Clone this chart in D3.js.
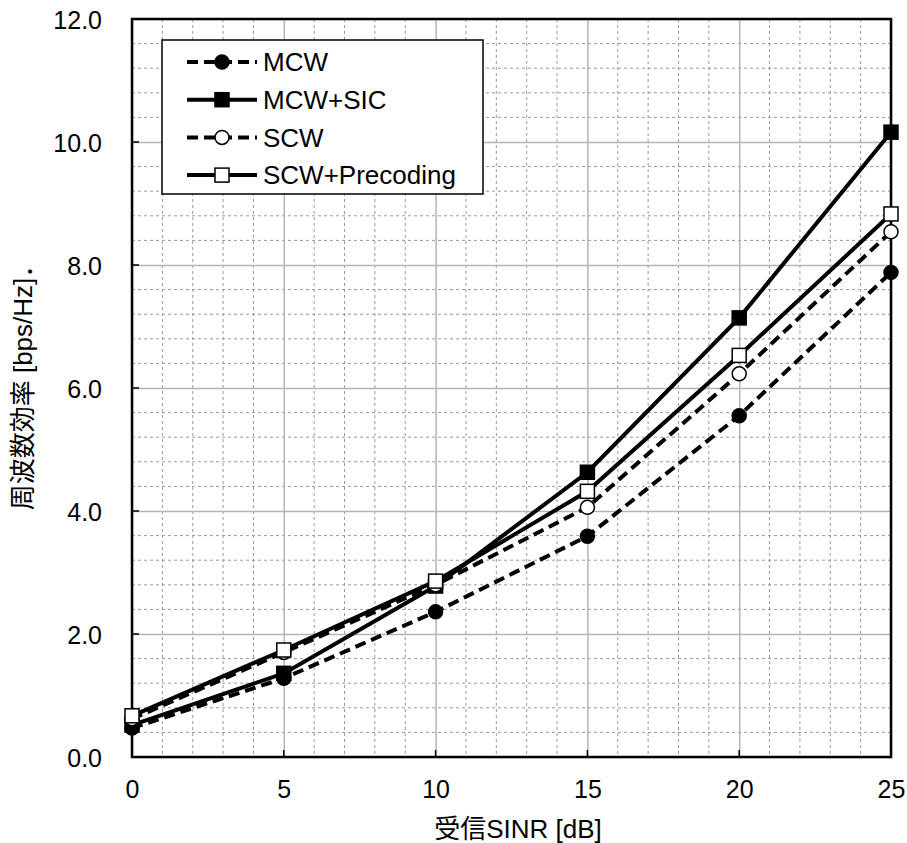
<!DOCTYPE html>
<html>
<head>
<meta charset="utf-8">
<script src="https://cdn.jsdelivr.net/npm/d3@7"></script>
<style>
    body { margin: 0; background: #fff; }
    svg { font-family: "Liberation Sans", Arial, "Noto Sans CJK JP", sans-serif; }
</style>
</head>
<body>
<svg></svg>
<script>
// chart data
let sinr = [0, 5, 10, 15, 20, 25];
let mcw = [0.47, 1.28, 2.36, 3.59, 5.55, 7.88];
let mcwSic = [0.52, 1.36, 2.78, 4.63, 7.14, 10.16];
let scw = [0.62, 1.70, 2.80, 4.06, 6.23, 8.54];
let scwPrecoding = [0.67, 1.74, 2.86, 4.32, 6.53, 8.83];

let seriesNames = ["MCW", "MCW+SIC", "SCW", "SCW+Precoding"];
let xTicks = [0, 5, 10, 15, 20, 25];
let yTicks = [0, 2, 4, 6, 8, 10, 12];

let xTitle = "受信SINR [dB]";
let yTitle = "周波数効率 [bps/Hz]．";

let width = 907;
let height = 843;
let plotLeft = 132;
let plotRight = 891;
let plotTop = 19;
let plotBottom = 757;

let svg = d3.select("svg")
    .attr("width", width)
    .attr("height", height);

let xScale = d3.scaleLinear().domain([0, 25]).range([plotLeft, plotRight]);
let yScale = d3.scaleLinear().domain([0, 12]).range([plotBottom, plotTop]);

// series styles: dashed or not, marker shape, marker fill
let series = [
    { name: seriesNames[0], values: mcw, dash: "11,6", shape: "circle", fill: "#000" },
    { name: seriesNames[1], values: mcwSic, dash: null, shape: "square", fill: "#000" },
    { name: seriesNames[2], values: scw, dash: "11,6", shape: "circle", fill: "#fff" },
    { name: seriesNames[3], values: scwPrecoding, dash: null, shape: "square", fill: "#fff" }
];

let grid = svg.append("g");

// minor grid, dashed
grid.selectAll(".minor-x")
    .data(d3.range(1, 25).filter(d => d % 5 !== 0))
    .enter()
    .append("line")
    .attr("x1", d => xScale(d))
    .attr("x2", d => xScale(d))
    .attr("y1", plotTop)
    .attr("y2", plotBottom)
    .attr("stroke", "#9a9a9a")
    .attr("stroke-width", 1)
    .attr("stroke-dasharray", "3,3");

grid.selectAll(".minor-y")
    .data(d3.range(1, 30).filter(d => d % 5 !== 0).map(d => d * 0.4))
    .enter()
    .append("line")
    .attr("x1", plotLeft)
    .attr("x2", plotRight)
    .attr("y1", d => yScale(d))
    .attr("y2", d => yScale(d))
    .attr("stroke", "#9a9a9a")
    .attr("stroke-width", 1)
    .attr("stroke-dasharray", "3,3");

// major grid, solid
let xAxis = d3.axisBottom(xScale).tickValues(xTicks).tickSize(-(plotBottom - plotTop)).tickPadding(23).tickFormat(d3.format("d"));
let yAxis = d3.axisLeft(yScale).tickValues(yTicks).tickSize(-(plotRight - plotLeft)).tickPadding(30).tickFormat(d3.format(".1f"));

let gx = svg.append("g")
    .attr("transform", "translate(0," + plotBottom + ")")
    .call(xAxis);

let gy = svg.append("g")
    .attr("transform", "translate(" + plotLeft + ",0)")
    .call(yAxis);

[gx, gy].forEach(g => {
    g.select(".domain").remove();
    g.selectAll(".tick line").attr("stroke", "#b4b4b4").attr("stroke-width", 1.5);
    g.selectAll(".tick text").attr("fill", "#000").style("font-family", "'Liberation Sans', Arial, sans-serif");
});
gx.selectAll(".tick text").style("font-size", "25px");
gy.selectAll(".tick text").style("font-size", "25px").attr("dy", "0.36em");

// small inside tick marks
svg.append("g").selectAll("line")
    .data(yTicks)
    .enter()
    .append("line")
    .attr("x1", plotLeft)
    .attr("x2", plotLeft + 7)
    .attr("y1", d => yScale(d))
    .attr("y2", d => yScale(d))
    .attr("stroke", "#000")
    .attr("stroke-width", 1.5);

svg.append("g").selectAll("line")
    .data(xTicks)
    .enter()
    .append("line")
    .attr("x1", d => xScale(d))
    .attr("x2", d => xScale(d))
    .attr("y1", plotBottom)
    .attr("y2", plotBottom - 7)
    .attr("stroke", "#000")
    .attr("stroke-width", 1.5);

// plot frame
svg.append("rect")
    .attr("x", plotLeft)
    .attr("y", plotTop)
    .attr("width", plotRight - plotLeft)
    .attr("height", plotBottom - plotTop)
    .attr("fill", "none")
    .attr("stroke", "#000")
    .attr("stroke-width", 2.5);

let line = d3.line()
    .x((d, i) => xScale(sinr[i]))
    .y(d => yScale(d));

let drawMarker = (g, s, x, y) => {
    if (s.shape === "circle") {
        g.append("circle")
            .attr("cx", x)
            .attr("cy", y)
            .attr("r", 7)
            .attr("fill", s.fill)
            .attr("stroke", "#000")
            .attr("stroke-width", 1.5);
    } else {
        g.append("rect")
            .attr("x", x - 7)
            .attr("y", y - 7)
            .attr("width", 14)
            .attr("height", 14)
            .attr("fill", s.fill)
            .attr("stroke", "#000")
            .attr("stroke-width", 1.5);
    }
};

series.forEach(s => {
    let g = svg.append("g");
    g.append("path")
        .datum(s.values)
        .attr("d", line)
        .attr("fill", "none")
        .attr("stroke", "#000")
        .attr("stroke-width", 4)
        .attr("stroke-dasharray", s.dash);
    s.values.forEach((v, i) => drawMarker(g, s, xScale(sinr[i]), yScale(v)));
});

// legend
let legend = svg.append("g");
legend.append("rect")
    .attr("x", 162)
    .attr("y", 40)
    .attr("width", 321)
    .attr("height", 154)
    .attr("fill", "#fff")
    .attr("stroke", "#000")
    .attr("stroke-width", 1.5);

series.forEach((s, i) => {
    let y = 62 + i * 37.7;
    legend.append("line")
        .attr("x1", 187)
        .attr("x2", 257)
        .attr("y1", y)
        .attr("y2", y)
        .attr("stroke", "#000")
        .attr("stroke-width", 4)
        .attr("stroke-dasharray", s.dash);
    drawMarker(legend, s, 222, y);
    legend.append("text")
        .attr("x", 263)
        .attr("y", y)
        .attr("dy", "0.36em")
        .style("font-size", "26px")
        .text(s.name);
});

// axis titles
svg.append("text")
    .attr("x", 518)
    .attr("y", 838)
    .attr("text-anchor", "middle")
    .style("font-size", "26px")
    .text(xTitle);

svg.append("text")
    .attr("transform", "translate(32," + 381 + ") rotate(-90)")
    .attr("text-anchor", "middle")
    .style("font-size", "26px")
    .text(yTitle);
</script>
</body>
</html>
